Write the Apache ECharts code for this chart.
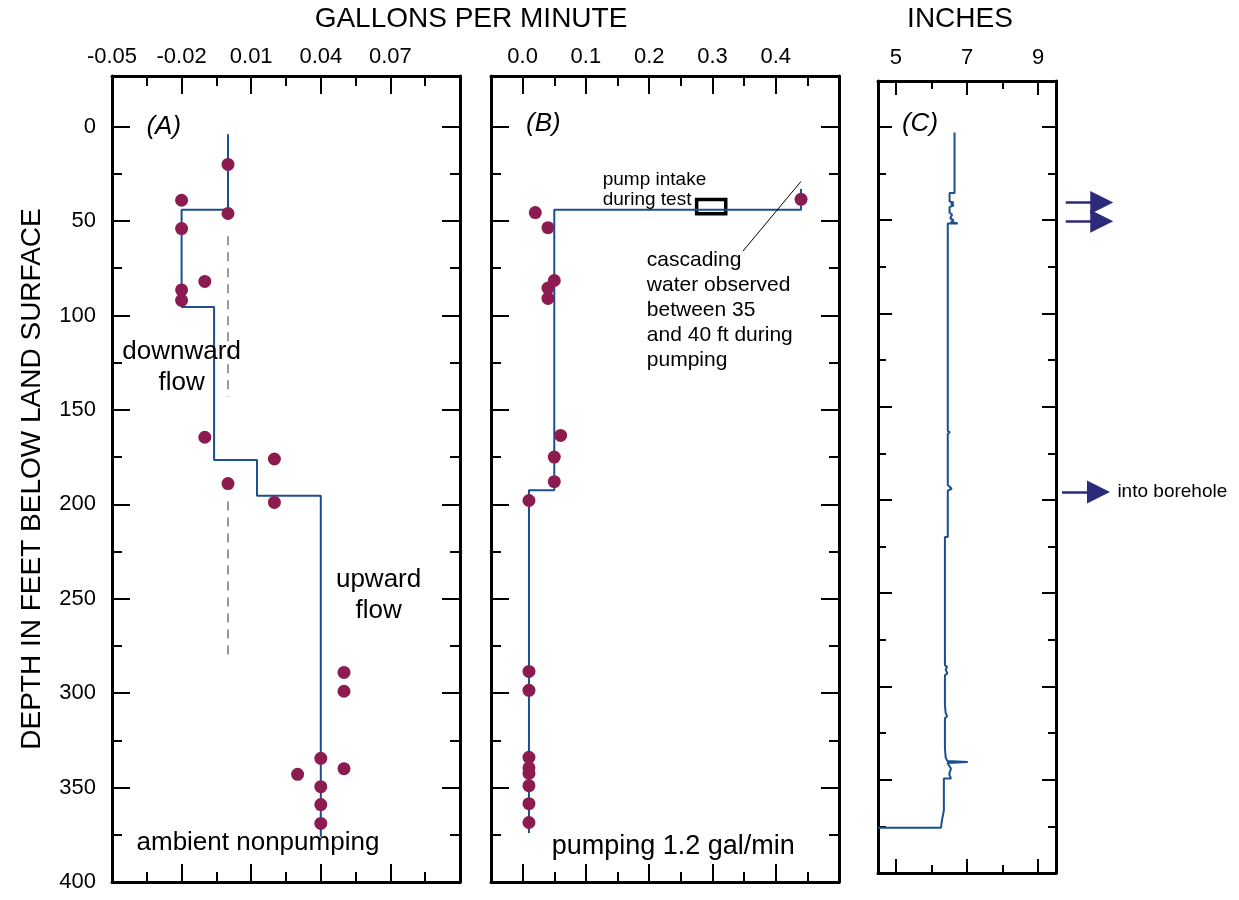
<!DOCTYPE html>
<html>
<head>
<meta charset="utf-8">
<script src="https://cdn.jsdelivr.net/npm/echarts@6/dist/echarts.min.js"></script>
<style>
  html, body { margin: 0; background: #fff; }
  #chart { width: 1239px; height: 900px; }
</style>
</head>
<body>
<div id="chart"></div>
<script>
// ---- data ----
// depth ticks, feet below land surface
var depthMajor = [0, 50, 100, 150, 200, 250, 300, 350, 400];
var depthMinor = [25, 75, 125, 175, 225, 275, 325, 375];

// (A) ambient flow, gal/min
var aTickMajor = [-0.02, 0.01, 0.04, 0.07];
var aTickMinor = [-0.035, -0.005, 0.025, 0.055, 0.085];
var aTickLabels = [-0.05, -0.02, 0.01, 0.04, 0.07];
var aFlow  = [0, -0.02, 0, -0.02, -0.01, -0.02, -0.02, -0.01, 0.02, 0, 0.02, 0.05, 0.05, 0.04, 0.05, 0.03, 0.04, 0.04, 0.04];
var aDepth = [20, 39, 46, 54, 82, 86.5, 92, 164.5, 176, 189, 199, 289, 299, 334.5, 340, 343, 349.5, 359, 369];
var aStepFlow  = [0, 0, -0.02, -0.02, -0.006, -0.006, 0.0125, 0.0125, 0.04, 0.04];
var aStepDepth = [4, 44, 44, 95.5, 95.5, 176.5, 176.5, 195.5, 195.5, 376];
var aDash1 = [[0, 58], [0, 143]];
var aDash2 = [[0, 198.5], [0, 283]];

// (B) pumping 1.2 gal/min
var bTickMajor = [0, 0.1, 0.2, 0.3, 0.4];
var bTickMinor = [0.05, 0.15, 0.25, 0.35, 0.45];
var bFlow  = [0.44, 0.02, 0.04, 0.05, 0.04, 0.04, 0.06, 0.05, 0.05, 0.01, 0.01, 0.01, 0.01, 0.01, 0.01, 0.01, 0.01, 0.01];
var bDepth = [38.5, 45.5, 53.5, 81.5, 85.5, 91, 163.5, 175, 188, 198, 288.5, 298.5, 334, 339.5, 342.5, 349, 358.5, 368.5];
var bStepFlow  = [0.44, 0.44, 0.05, 0.05, 0.01, 0.01];
var bStepDepth = [33, 44, 44, 192.5, 192.5, 374];
var bPumpBox = [[0.275, 38.6], [0.321, 46.2]];
var bLeader = [[0.44, 29], [0.348, 66]];

// (C) caliper, inches
var cTickMajor = [5, 7, 9];
var cTickMinor = [6, 8];
var caliper = [
  [6.65, 3], [6.65, 15], [6.68, 15.3], [6.65, 15.6], [6.65, 35.4], [6.51, 35.4], [6.51, 40],
  [6.62, 40.5], [6.55, 41.5], [6.63, 42], [6.51, 43], [6.51, 46], [6.58, 47], [6.53, 49],
  [6.62, 50], [6.55, 51], [6.74, 51.8], [6.46, 51.8], [6.46, 86], [6.5, 87], [6.46, 88],
  [6.46, 95], [6.49, 95.5], [6.46, 96.5], [6.46, 101], [6.5, 102], [6.46, 104], [6.46, 112],
  [6.49, 113], [6.46, 114], [6.46, 118], [6.49, 119], [6.46, 120], [6.46, 126], [6.49, 127],
  [6.46, 128], [6.46, 136], [6.5, 137], [6.46, 138], [6.46, 148], [6.48, 149], [6.46, 150],
  [6.46, 163], [6.52, 163.7], [6.46, 164.5], [6.46, 180], [6.49, 181], [6.46, 182],
  [6.46, 192], [6.57, 194], [6.46, 195], [6.46, 219.8], [6.38, 219.8], [6.38, 288.6],
  [6.44, 289.5], [6.4, 291], [6.45, 293], [6.38, 294], [6.38, 302], [6.43, 303], [6.38, 304],
  [6.38, 310], [6.42, 311], [6.4, 314], [6.44, 316], [6.38, 317], [6.38, 325], [6.43, 326],
  [6.38, 327.5], [6.38, 333], [6.42, 334], [6.4, 338], [6.45, 340], [7.02, 340.5], [6.45, 341],
  [6.44, 342], [6.55, 344], [6.5, 347], [6.55, 349.4], [6.35, 349.4], [6.35, 366.4],
  [6.3, 366.4], [6.3, 371.4], [6.27, 371.4], [6.27, 375.7], [4.5, 375.7]
];

// arrows to the right of (C): depth
var arrowDepth = [40.5, 50.6, 195.7];

// ---- styling ----
var BLUE = '#1b4f8f', DOT = '#8c1c4f', NAVY = '#2c2a7a';
var FONT = "'Liberation Sans', Arial, Helvetica, sans-serif";

function pairs(xs, ys) { return xs.map(function(v, i) { return [v, ys[i]]; }); }

// main + minor axis on each of the two sides
function axes(dim, gi, min, max, major, minor, lens, labels, fmt, margin, extra) {
  var pos = dim === 'x' ? ['top', 'bottom'] : ['left', 'right'];
  var out = [];
  pos.forEach(function(p, side) {
    [major, minor].forEach(function(ticks, k) {
      var a = {
        type: 'value', gridIndex: gi, position: p, min: min, max: max,
        splitLine: { show: false },
        axisLine: { show: k === 0, onZero: false, lineStyle: { color: '#000', width: 3 } },
        axisTick: { show: true, inside: true, length: lens[k], customValues: ticks,
                    lineStyle: { color: '#000', width: 2 } },
        axisLabel: { show: false }
      };
      if (dim === 'y') a.inverse = true;
      if (side === 0 && k === 0 && labels) {
        a.axisLabel = { show: true, customValues: labels, formatter: fmt, fontSize: 22,
                        color: '#000', fontFamily: FONT, margin: margin };
      }
      out.push(a);
    });
  });
  if (extra) Object.assign(out[0], extra);
  return out;
}

// text placed in data coordinates
function notes(axisIdx, items) {
  return {
    type: 'scatter', xAxisIndex: axisIdx, yAxisIndex: axisIdx, symbol: 'rect', symbolSize: 1,
    silent: true, z: 6,
    itemStyle: { color: '#fff', opacity: 1 },
    data: items.map(function(n) {
      return {
        value: [n[0], n[1]],
        label: { show: true, formatter: n[2], position: n[3], distance: 0, fontSize: n[4],
                 lineHeight: n[5], fontStyle: n[6] || 'normal', color: '#000', opacity: 1,
                 textBorderWidth: 0, fontFamily: FONT }
      };
    })
  };
}

var Y_AB = [-26.8, 400], Y_C = [-24.6, 400];

var xAxis = [].concat(
  axes('x', 0, -0.05, 0.1, aTickMajor, aTickMinor, [18, 10], aTickLabels,
       function(v) { return v.toFixed(2); }, 8),
  axes('x', 1, -0.05, 0.5, bTickMajor, bTickMinor, [18, 10], bTickMajor,
       function(v) { return v.toFixed(1); }, 8),
  axes('x', 2, 4.5, 9.5, cTickMajor, cTickMinor, [14, 8], cTickMajor,
       function(v) { return String(v); }, 12),
  [{ type: 'value', gridIndex: 3, min: 0, max: 1, show: false }]
);

var yAxis = [].concat(
  axes('y', 0, Y_AB[0], Y_AB[1], depthMajor, depthMinor, [18, 10], depthMajor,
       function(v) { return String(v); }, 16,
       { name: 'DEPTH IN FEET BELOW LAND SURFACE', nameLocation: 'middle', nameGap: 66,
         nameRotate: 90, nameTextStyle: { fontSize: 28, color: '#000', fontFamily: FONT } }),
  axes('y', 1, Y_AB[0], Y_AB[1], depthMajor, depthMinor, [18, 10], null),
  axes('y', 2, Y_C[0], Y_C[1], depthMajor, depthMinor, [14, 8], null),
  [{ type: 'value', gridIndex: 3, min: Y_C[0], max: Y_C[1], inverse: true, show: false }]
);

var chart = echarts.init(document.getElementById('chart'));
chart.setOption({
  animation: false,
  backgroundColor: '#fff',
  textStyle: { fontFamily: FONT, color: '#000' },
  grid: [
    { left: 112, top: 76, width: 348, height: 806 },
    { left: 491, top: 76, width: 348, height: 806 },
    { left: 878, top: 81, width: 178, height: 792 },
    { left: 1062, top: 81, width: 60, height: 792 }
  ],
  graphic: [
    { type: 'text', x: 471, y: 19, style: { text: 'GALLONS PER MINUTE', fontSize: 28, fontFamily: FONT,
      fill: '#000', align: 'center', verticalAlign: 'middle' } },
    { type: 'text', x: 960, y: 19, style: { text: 'INCHES', fontSize: 28, fontFamily: FONT,
      fill: '#000', align: 'center', verticalAlign: 'middle' } }
  ],
  xAxis: xAxis,
  yAxis: yAxis,
  series: [
    // (A)
    { type: 'line', xAxisIndex: 0, yAxisIndex: 0, data: aDash1, symbol: 'none', silent: true,
      lineStyle: { color: '#777', width: 1.5, type: [9, 7] } },
    { type: 'line', xAxisIndex: 0, yAxisIndex: 0, data: aDash2, symbol: 'none', silent: true,
      lineStyle: { color: '#777', width: 1.5, type: [9, 7] } },
    { type: 'line', xAxisIndex: 0, yAxisIndex: 0, data: pairs(aStepFlow, aStepDepth), symbol: 'none',
      lineStyle: { color: BLUE, width: 2 }, z: 3 },
    { type: 'scatter', xAxisIndex: 0, yAxisIndex: 0, data: pairs(aFlow, aDepth), symbolSize: 13,
      itemStyle: { color: DOT, opacity: 1 }, z: 4 },
    notes(0, [
      [-0.0277, 0, '(A)', 'inside', 26, 30, 'italic'],
      [-0.02, 127.4, 'downward\nflow', 'inside', 26, 31],
      [0.0649, 248.4, 'upward\nflow', 'inside', 26, 31],
      [0.0129, 379.5, 'ambient nonpumping', 'inside', 26, 30]
    ]),
    // (B)
    { type: 'line', xAxisIndex: 4, yAxisIndex: 4, data: pairs(bStepFlow, bStepDepth), symbol: 'none',
      lineStyle: { color: BLUE, width: 2 }, z: 3,
      markArea: { silent: true, itemStyle: { color: 'rgba(0,0,0,0)', borderColor: '#000', borderWidth: 3.5 },
        data: [[{ coord: bPumpBox[0] }, { coord: bPumpBox[1] }]] } },
    { type: 'line', xAxisIndex: 4, yAxisIndex: 4, data: bLeader, symbol: 'none', silent: true,
      lineStyle: { color: '#000', width: 1 } },
    { type: 'scatter', xAxisIndex: 4, yAxisIndex: 4, data: pairs(bFlow, bDepth), symbolSize: 13,
      itemStyle: { color: DOT, opacity: 1 }, z: 4 },
    notes(4, [
      [0.0327, -1.5, '(B)', 'inside', 26, 30, 'italic'],
      [0.1258, 33.7, 'pump intake\nduring test', 'right', 19, 20],
      [0.1955, 97, 'cascading\nwater observed\nbetween 35\nand 40 ft during\npumping', 'right', 21, 25],
      [0.238, 381.3, 'pumping 1.2 gal/min', 'inside', 27, 30]
    ]),
    // (C)
    { type: 'line', xAxisIndex: 8, yAxisIndex: 8, data: caliper, symbol: 'none',
      lineStyle: { color: BLUE, width: 2 }, z: 3 },
    notes(8, [[5.68, -1.8, '(C)', 'inside', 26, 30, 'italic']]),
    // arrows
    { type: 'lines', coordinateSystem: 'cartesian2d', xAxisIndex: 12, yAxisIndex: 12, silent: true,
      symbol: ['none', 'triangle'], symbolSize: [15, 23],
      lineStyle: { color: NAVY, width: 2.5, opacity: 1 },
      data: arrowDepth.map(function(d, i) {
        return { coords: [[i === 2 ? 0 : 0.062, d], [i === 2 ? 0.608 : 0.663, d]] };
      })
    },
    notes(12, [[0.915, 195.7, 'into borehole', 'right', 19, 22]])
  ]
});
</script>
</body>
</html>
